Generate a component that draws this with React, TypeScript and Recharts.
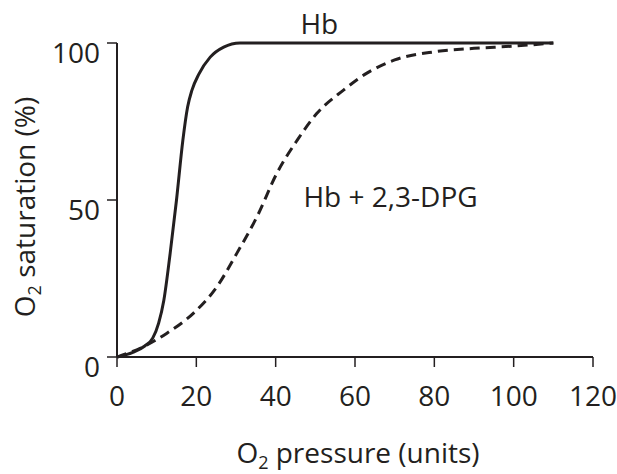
import React from 'react';
import { LineChart, Line, XAxis, YAxis, ReferenceDot } from 'recharts';

// O2 pressure (units) vs saturation (%)
const hbPressure = [0, 4, 7, 9, 10.5, 11.8, 13.4, 15, 16.6, 17.8, 18.9, 20.6, 23.5, 26.9, 31, 50, 80, 110];
const hbSaturation = [0, 1.5, 3.5, 6, 10.8, 18, 33, 50, 69, 79.6, 85, 90, 95.5, 98.7, 100, 100, 100, 100];

const dpgPressure = [0, 6.7, 12.6, 19.3, 25.2, 30.2, 35.3, 40.3, 45.4, 50.4, 57.1, 63, 70, 80, 90, 100, 110];
const dpgSaturation = [0, 3.3, 7.6, 14, 22.4, 33, 44.7, 58.5, 69, 77.6, 85, 90.4, 94.6, 97.2, 98.3, 99, 100];

const pressureTicks = [0, 20, 40, 60, 80, 100, 120];
const saturationTicks = [0, 50, 100];

const hbData = hbPressure.map((p, i) => ({ p, s: hbSaturation[i] }));
const dpgData = dpgPressure.map((p, i) => ({ p, s: dpgSaturation[i] }));

const INK = '#231f20';
const FONT = "'Open Sans', 'Noto Sans', sans-serif";
const SIZE = 28;

const XTick = ({ x, y, payload }: any) => (
  <text x={x} y={y} dy={37} textAnchor="middle" fill={INK} fontSize={SIZE} fontFamily={FONT}>
    {payload.value}
  </text>
);

const YTick = ({ x, y, payload }: any) => (
  <text x={x} y={y} dy={20} textAnchor="end" fill={INK} fontSize={SIZE} fontFamily={FONT}>
    {payload.value}
  </text>
);

const XTitle = ({ viewBox }: any) => {
  const cx = viewBox.x + viewBox.width / 2 + 3;
  const by = viewBox.y + 106;
  return (
    <text x={cx} y={by} textAnchor="middle" fill={INK} fontSize={SIZE} fontFamily={FONT}>
      <tspan>O</tspan>
      <tspan fontSize={18} dy={6}>2</tspan>
      <tspan dy={-6}> pressure (units)</tspan>
    </text>
  );
};

const YTitle = ({ viewBox }: any) => {
  const bx = viewBox.x + 35;
  const cy = viewBox.y + viewBox.height / 2 + 7;
  return (
    <text
      x={bx}
      y={cy}
      textAnchor="middle"
      fill={INK}
      fontSize={SIZE}
      fontFamily={FONT}
      transform={`rotate(-90, ${bx}, ${cy})`}
    >
      <tspan>O</tspan>
      <tspan fontSize={18} dy={6}>2</tspan>
      <tspan dy={-6}> saturation (%)</tspan>
    </text>
  );
};

export default function App() {
  return (
    <div style={{ position: 'absolute', left: 0, top: 0, background: '#fff' }}>
      <LineChart width={617} height={474} margin={{ top: 43, right: 24, bottom: 0, left: 0 }}>
        <XAxis
          type="number"
          dataKey="p"
          domain={[0, 120]}
          ticks={pressureTicks}
          allowDataOverflow
          height={117}
          tickSize={10}
          tickMargin={2}
          tick={<XTick />}
          axisLine={{ stroke: INK, strokeWidth: 2 }}
          tickLine={{ stroke: INK, strokeWidth: 1.5 }}
          label={<XTitle />}
        />
        <YAxis
          type="number"
          dataKey="s"
          domain={[0, 100]}
          ticks={saturationTicks}
          width={117}
          tickSize={10}
          tickMargin={7}
          tick={<YTick />}
          axisLine={{ stroke: INK, strokeWidth: 2 }}
          tickLine={{ stroke: INK, strokeWidth: 1.5 }}
          label={<YTitle />}
        />
        <Line
          data={hbData}
          dataKey="s"
          type="monotone"
          stroke={INK}
          strokeWidth={3}
          dot={false}
          isAnimationActive={false}
        />
        <Line
          data={dpgData}
          dataKey="s"
          type="monotone"
          stroke={INK}
          strokeWidth={3}
          strokeDasharray="10 6"
          dot={false}
          isAnimationActive={false}
        />
        <ReferenceDot
          x={51}
          y={100}
          r={2}
          fill="none"
          stroke="none"
          ifOverflow="visible"
          label={{ value: 'Hb', position: 'top', offset: 7, fill: INK, fontSize: SIZE, fontFamily: FONT }}
        />
        <ReferenceDot
          x={46}
          y={51}
          r={2}
          fill="none"
          stroke="none"
          ifOverflow="visible"
          label={{ value: 'Hb + 2,3-DPG', position: 'right', offset: 2, fill: INK, fontSize: SIZE, fontFamily: FONT }}
        />
      </LineChart>
    </div>
  );
}
